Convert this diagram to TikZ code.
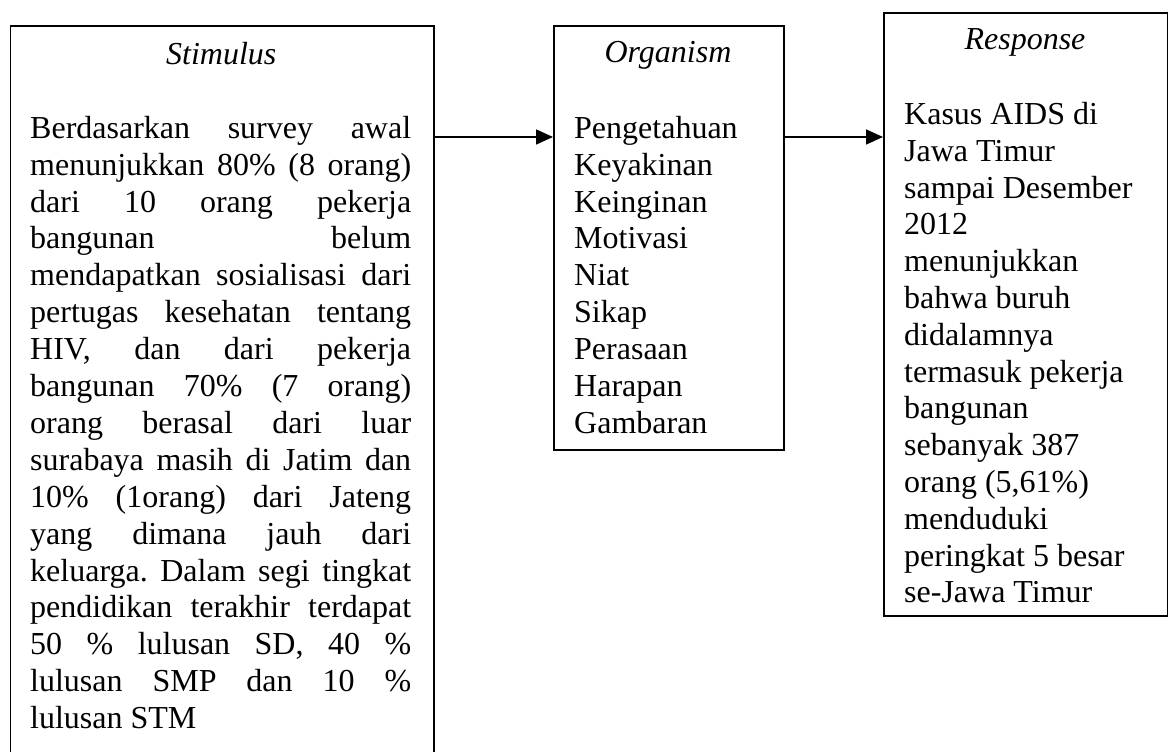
\documentclass[tikz,border=0pt]{standalone}
\usepackage{fontspec}
\setmainfont{Liberation Serif}
\usetikzlibrary{arrows.meta}
\frenchspacing
\tikzset{
  frame/.style={draw=black, line width=1.6pt, rectangle, inner sep=0pt, anchor=north west},
  txt/.style={anchor=base west, inner sep=0pt, font=\fontsize{32}{36.9}\selectfont},
  ttl/.style={anchor=base, inner sep=0pt, font=\fontsize{32}{36.9}\selectfont\itshape},
  arr/.style={line width=1.6pt, -{Triangle[length=17pt,width=15pt]}}
}
\begin{document}
\begin{tikzpicture}[x=1pt,y=1pt]
\useasboundingbox (0,0) rectangle (1168,752);
\clip (0,0) rectangle (1168,752);
\fill[white] (0,0) rectangle (1168,752);
% boxes
\node[frame, minimum width=423.5pt, minimum height=760pt] (stim) at (9.5,727) {};
\node[frame, minimum width=230pt, minimum height=424pt] (org) at (553,727) {};
\node[frame, minimum width=284pt, minimum height=603pt] (resp) at (883,740) {};
% titles
\node[ttl] (stimT) at (221.25,687) {Stimulus};
\node[ttl] (orgT) at (668,689) {Organism};
\node[ttl] (respT) at (1025,702) {Response};
% stimulus body (justified lines)
\foreach \t [count=\i from 0] in {
  {Berdasarkan survey awal},
  {menunjukkan 80\% (8 orang)},
  {dari 10 orang pekerja},
  {bangunan belum},
  {mendapatkan sosialisasi dari},
  {pertugas kesehatan tentang},
  {HIV, dan dari pekerja},
  {bangunan 70\% (7 orang)},
  {orang berasal dari luar},
  {surabaya masih di Jatim dan},
  {10\% (1orang) dari Jateng},
  {yang dimana jauh dari},
  {keluarga. Dalam segi tingkat},
  {pendidikan terakhir terdapat},
  {50 \% lulusan SD, 40 \%},
  {lulusan SMP dan 10 \%}}
  \node[txt] (s\i) at (30, 752-138.3-\i*36.9) {\makebox[381pt][s]{\t}};
\node[txt] (s16) at (30, 752-138.3-16*36.9) {lulusan STM};
% organism list
\foreach \t [count=\i from 0] in {Pengetahuan, Keyakinan, Keinginan, Motivasi, Niat, Sikap, Perasaan, Harapan, Gambaran}
  \node[txt] (o\i) at (574, 752-138.3-\i*36.9) {\t};
% response body
\foreach \t [count=\i from 0] in {
  {Kasus AIDS di},
  {Jawa Timur},
  {sampai Desember},
  {2012},
  {menunjukkan},
  {bahwa buruh},
  {didalamnya},
  {termasuk pekerja},
  {bangunan},
  {sebanyak 387},
  {orang (5,61\%)},
  {menduduki},
  {peringkat 5 besar},
  {se-Jawa Timur}}
  \node[txt] (r\i) at (904, 752-124.5-\i*36.8) {\t};
% arrows
\coordinate (ay) at (0,615);
\draw[arr] (stim.east |- ay) -- (org.west |- ay);
\draw[arr] (org.east |- ay) -- (resp.west |- ay);
\end{tikzpicture}
\end{document}
